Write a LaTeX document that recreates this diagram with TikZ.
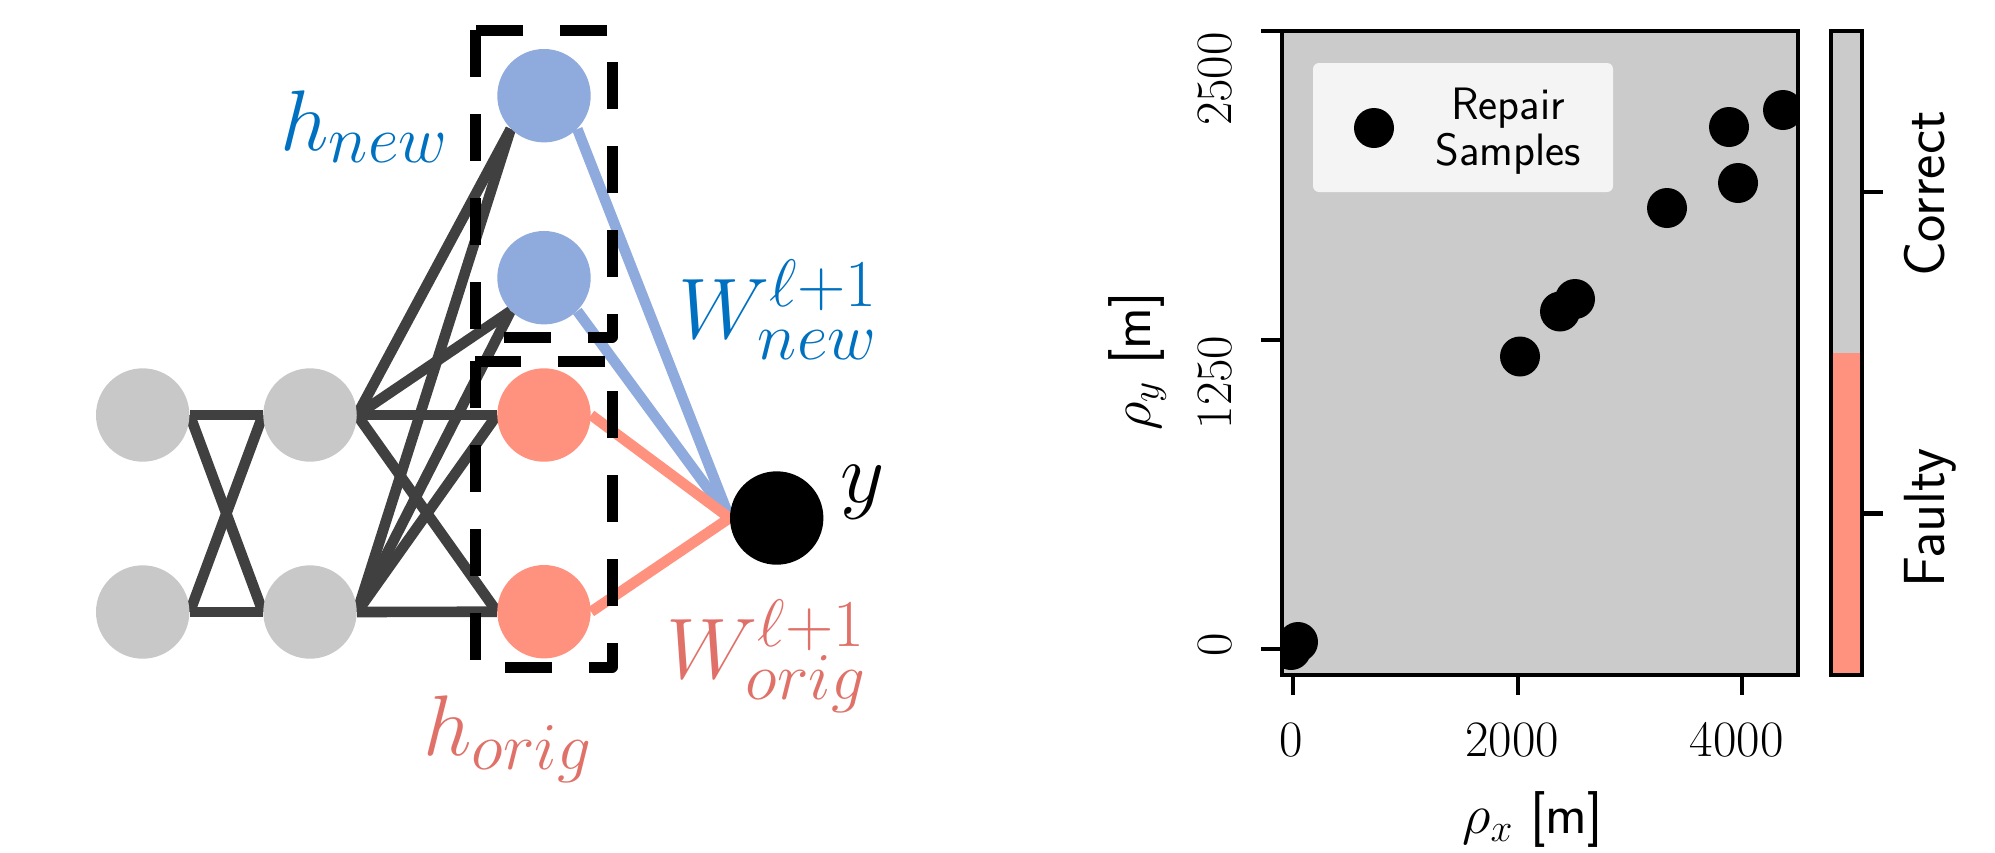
\RequirePackage{fix-cm}
\documentclass[tikz,border=0pt]{standalone}
\usetikzlibrary{backgrounds}
\DeclareMathSizes{43}{43}{33.5}{26}
\definecolor{nodegray}{HTML}{C8C8C8}
\definecolor{edgegray}{HTML}{404040}
\definecolor{bluenode}{HTML}{8FAADC}
\definecolor{salmonc}{HTML}{FF927E}
\definecolor{bluetext}{HTML}{0070C0}
\definecolor{salmontext}{HTML}{E07168}
\definecolor{plotgray}{HTML}{CBCBCB}
\definecolor{legbg}{HTML}{F4F4F4}
\begin{document}
\begin{tikzpicture}[x=0.5pt,y=-0.5pt,
  neuron/.style={circle,minimum size=46.7pt,inner sep=0pt,draw=none},
  conn/.style={line width=5.3pt,line cap=butt},
  dbox/.style={line width=5.5pt,dash pattern=on 23.5pt off 18.5pt,line join=round},
  bigmath/.style={inner sep=0pt,font=\fontsize{43}{50}\selectfont},
  ticklab/.style={inner sep=0pt,font=\rmfamily\fontsize{25.5}{30}\selectfont},
  axlab/.style={inner sep=0pt,font=\fontsize{28}{33}\selectfont},
  cblab/.style={inner sep=0pt,font=\sffamily\fontsize{29}{34}\selectfont},
  frameline/.style={line width=2pt},
  tickline/.style={line width=2.2pt}]
\useasboundingbox (0,0) rectangle (1995,852);

% ---------------- network ----------------
\node[neuron,fill=nodegray] (g1) at (142.7,415) {};
\node[neuron,fill=nodegray] (g2) at (142.7,612) {};
\node[neuron,fill=nodegray] (g3) at (310,415) {};
\node[neuron,fill=nodegray] (g4) at (310,612) {};
\node[neuron,fill=bluenode] (b1) at (544,95.7) {};
\node[neuron,fill=bluenode] (b2) at (544,277.7) {};
\node[neuron,fill=salmonc] (s1) at (544,415) {};
\node[neuron,fill=salmonc] (s2) at (544,611.7) {};
\node[neuron,fill=black] (out) at (776.7,518) {};

\begin{scope}[on background layer]
  \foreach \a/\b in {g1/g3,g1/g4,g2/g3,g2/g4}
    \draw[conn,draw=edgegray] (\a.east) -- (\b.west);
  \foreach \a in {g3,g4}{
    \draw[conn,draw=edgegray] (\a.east) -- (b1.south west);
    \draw[conn,draw=edgegray] (\a.east) -- (b2.south west);
    \draw[conn,draw=edgegray] (\a.east) -- (s1.west);
    \draw[conn,draw=edgegray] (\a.east) -- (s2.west);
  }
  \draw[conn,draw=bluenode] (b1.south east) -- (out.west);
  \draw[conn,draw=bluenode] (b2.south east) -- (out.west);
  \draw[conn,draw=salmonc] (s1.east) -- (out.west);
  \draw[conn,draw=salmonc] (s2.east) -- (out.west);
\end{scope}

\draw[dbox] (475,30) rectangle (612,337);
\draw[dbox] (475,361) rectangle (612,667);

\node[bigmath,anchor=base west,text=bluetext] (lhnew) at (280,150) {$h_{new}$};
\node[bigmath,anchor=base west,text=bluetext] (lwnew) at (678,338) {$W^{\ell+1}_{new}$};
\node[bigmath,anchor=base west,text=black] (ly) at (840,502) {$y$};
\node[bigmath,anchor=base west,text=salmontext] (lworig) at (666,678) {$W^{\ell+1}_{orig}$};
\node[bigmath,anchor=base west,text=salmontext] (lhorig) at (423,755) {$h_{orig}$};

% ---------------- plot ----------------
\fill[plotgray] (1281.5,31) rectangle (1797.5,674.5);
\begin{scope}
  \clip (1281.5,31) rectangle (1797.5,674.5);
  \foreach \px/\py in {1783/110,1729/127,1738/183,1667/208,1575/299,1560/311.5,1520/356.5,1298/642,1291/650}
    \fill[black] (\px,\py) circle[radius=20];
\end{scope}
\fill[legbg,rounded corners=3pt] (1313,63) rectangle (1613,192);
\fill[black] (1374,128) circle[radius=20];
\node[inner sep=0pt,align=center,font=\sffamily\fontsize{22.7}{22.85}\selectfont] (leg) at (1508,131) {Repair\\Samples};

\draw[frameline] (1281.5,31) rectangle (1797.5,674.5);
\foreach \tx in {1293,1517.7,1741.7}
  \draw[tickline] (\tx,674.5) -- (\tx,695);
\foreach \ty in {31,340,649}
  \draw[tickline] (1261,\ty) -- (1281.5,\ty);
\node[ticklab,anchor=base] (xt0) at (1291.5,756) {0};
\node[ticklab,anchor=base] (xt1) at (1512,756) {2000};
\node[ticklab,anchor=base] (xt2) at (1736.6,756) {4000};
\node[ticklab,anchor=base,rotate=90] (yt2) at (1231,79) {2500};
\node[ticklab,anchor=base,rotate=90] (yt1) at (1231,382.5) {1250};
\node[ticklab,anchor=base,rotate=90] (yt0) at (1231,645) {0};
\node[axlab,anchor=base] (xlab) at (1532.5,833) {$\rho_x$ \textsf{[m]}};
\node[axlab,anchor=base,rotate=90] (ylab) at (1150,361.5) {$\rho_y$ \textsf{[m]}};

% colorbar
\fill[plotgray] (1830.5,31) rectangle (1861.5,352.75);
\fill[salmonc] (1830.5,352.75) rectangle (1861.5,674.5);
\draw[frameline] (1830.5,31) rectangle (1861.5,674.5);
\draw[tickline] (1861.5,191.9) -- (1883,191.9);
\draw[tickline] (1861.5,513.6) -- (1883,513.6);
\node[cblab,anchor=base,rotate=90] (lcor) at (1944,194) {Correct};
\node[cblab,anchor=base,rotate=90] (lfau) at (1944,518) {Faulty};
\end{tikzpicture}
\end{document}
